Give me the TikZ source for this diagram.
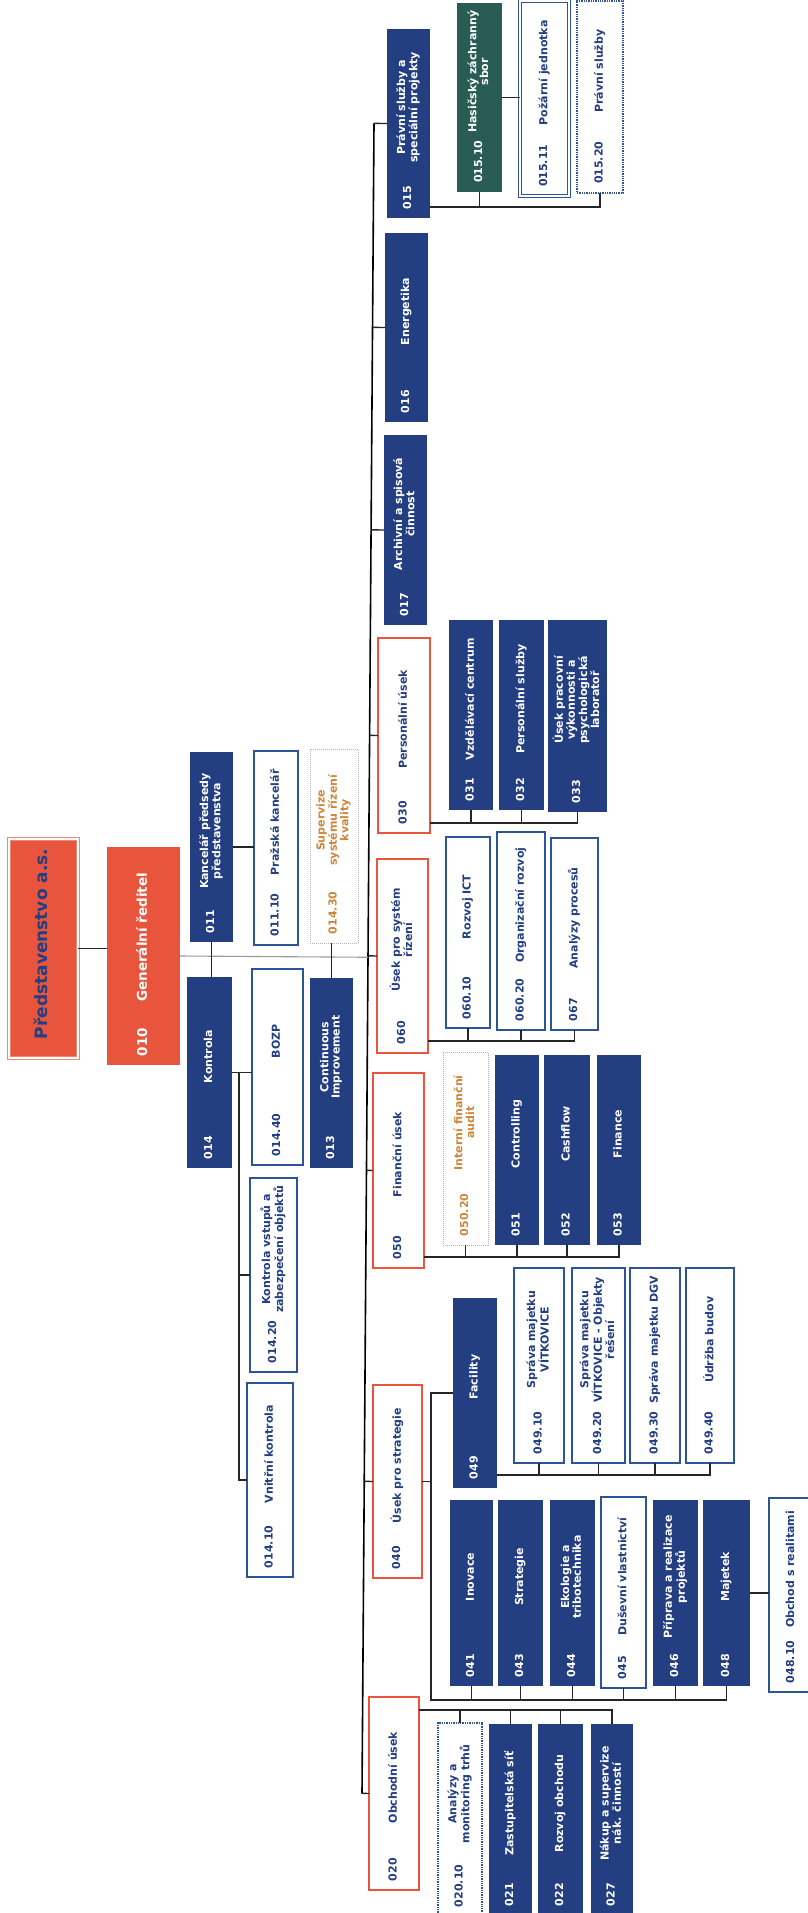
\documentclass[tikz,border=0pt]{standalone}
\usepackage{fontspec}
\setmainfont{DejaVu Sans}
\usetikzlibrary{calc}

\definecolor{navy}{RGB}{36,62,130}
\definecolor{redc}{RGB}{232,84,60}
\definecolor{bord}{RGB}{45,85,150}
\definecolor{tealg}{RGB}{40,92,84}
\definecolor{ortxt}{RGB}{205,135,60}

\renewcommand{\arraystretch}{0.88}
\newcommand{\fsz}{\fontsize{11}{12.5}\selectfont}

% text of a box: code at the bottom, label centred in the rest
\newcommand{\boxtxt}[3]{\hbox to #1pt{\hspace{9pt}#2\hfil\begin{tabular}{@{}c@{}}#3\end{tabular}\hfil}}
% style, name, x1, y1, x2, y2, code, label
\newcommand{\orgbox}[8]{%
  \node[#1, minimum width={(#5)-(#3)}, minimum height={(#6)-(#4)}] (#2) at ({((#3)+(#5))/2},{((#4)+(#6))/2}) {};
  \pgfmathsetmacro{\blen}{(#6)-(#4)}
  \node[#1 text, rotate=90, inner sep=0pt] (#2-t) at (#2.center) {\boxtxt{\blen}{#7}{#8}};}

\tikzset{
  box/.style={rectangle, inner sep=0pt, outer sep=0pt},
  dbox/.style={box, fill=navy},
  dbox text/.style={text=white, font=\bfseries\fsz},
  gbox/.style={box, fill=tealg},
  gbox text/.style={dbox text},
  wbox/.style={box, draw=bord, line width=1.3pt, fill=white},
  wbox text/.style={text=navy, font=\bfseries\fsz},
  wdot/.style={wbox, densely dotted},
  wdot text/.style={wbox text},
  tbox/.style={box, draw=bord, line width=2.8pt, fill=white},
  tbox text/.style={wbox text},
  qbox/.style={box, draw=bord, double=white, double distance=1.6pt, line width=0.9pt, fill=white},
  qbox text/.style={wbox text},
  obox/.style={box, draw=gray!60, densely dotted, line width=1pt, fill=white},
  obox text/.style={text=ortxt, font=\bfseries\fsz},
  rbox/.style={box, draw=redc, line width=1.8pt, fill=white},
  rbox text/.style={wbox text},
  rfill/.style={box, fill=redc},
  rfill text/.style={text=white, font=\bfseries\fontsize{13.5}{15}\selectfont},
  pbox/.style={box, fill=redc, draw=redc!70, double=white, double distance=2.4pt, line width=0.8pt},
  pbox text/.style={text=navy, font=\bfseries\fontsize{17}{19}\selectfont},
  conn/.style={draw=black!85, line width=1.4pt},
  bus/.style={draw=black, line width=1.6pt},
  gline/.style={draw=gray!80, line width=1.1pt}
}

\begin{document}
\begin{tikzpicture}[x=1pt,y=-1pt]
\useasboundingbox (0,0) rectangle (807,1913);

% board and director
\orgbox{pbox}{pred}{9}{839}{78}{1058}{}{Představenstvo a.s.}
\orgbox{rfill}{k010}{107}{847}{180}{1065}{010}{Generální ředitel}

% units of the director
\orgbox{dbox}{k011}{190}{752}{233}{942}{011}{Kancelář předsedy\\představenstva}
\orgbox{dbox}{k014}{187}{977}{232}{1168}{014}{Kontrola}
\orgbox{wbox}{k01110}{254}{751}{298}{945}{011.10}{Pražská kancelář}
\orgbox{obox}{sup}{310}{749}{358}{943}{014.30}{Supervize\\systému řízení\\kvality}
\orgbox{tbox}{bozp}{252}{969}{303}{1165}{014.40}{BOZP}
\orgbox{dbox}{k013}{310}{978}{353}{1168}{013}{Continuous\\Improvement}
\orgbox{wbox}{k01420}{250}{1178}{297}{1372}{014.20}{Kontrola vstupů a\\zabezpečení objektů}
\orgbox{wbox}{k01410}{247}{1383}{293}{1577}{014.10}{Vnitřní kontrola}

% column on the bus
\orgbox{dbox}{k015}{387}{29}{430}{218}{015}{Právní služby a\\speciální projekty}
\orgbox{dbox}{k016}{385}{233}{428}{422}{016}{Energetika}
\orgbox{dbox}{k017}{384}{435}{427}{625}{017}{Archivní a spisová\\činnost}
\orgbox{rbox}{k030}{378}{638}{430}{833}{030}{Personální úsek}
\orgbox{rbox}{k060}{377}{859}{428}{1053}{060}{Úsek pro systém\\řízení}
\orgbox{rbox}{k050}{373}{1073}{424}{1268}{050}{Finanční úsek}
\orgbox{rbox}{k040}{373}{1385}{422}{1578}{040}{Úsek pro strategie}
\orgbox{rbox}{k020}{369}{1697}{419}{1890}{020}{Obchodní úsek}

% 015
\orgbox{gbox}{k01510}{457}{3}{502}{192}{015.10}{Hasičský záchranný\\sbor}
\orgbox{qbox}{k01511}{520}{1}{569}{196}{015.11}{Požární jednotka}
\orgbox{wdot}{k01520}{577}{1}{623}{193}{015.20}{Právní služby}

% 030
\orgbox{dbox}{k031}{449}{620}{493}{810}{031}{Vzdělávací centrum}
\orgbox{dbox}{k032}{499}{620}{544}{810}{032}{Personální služby}
\orgbox{dbox}{k033}{548}{620}{607}{812}{033}{Úsek pracovní\\výkonnosti a\\psychologická\\laboratoř}

% 060
\orgbox{wbox}{k06010}{446}{837}{490}{1028}{060.10}{Rozvoj ICT}
\orgbox{tbox}{k06020}{497}{832}{545}{1030}{060.20}{Organizační rozvoj}
\orgbox{wbox}{k067}{551}{838}{598}{1030}{067}{Analýzy procesů}

% 050
\orgbox{obox}{k05020}{443}{1052}{488}{1245}{050.20}{Interní finanční\\audit}
\orgbox{dbox}{k051}{495}{1055}{539}{1245}{051}{Controlling}
\orgbox{dbox}{k052}{544}{1055}{590}{1245}{052}{Cashflow}
\orgbox{dbox}{k053}{597}{1055}{641}{1245}{053}{Finance}

% 040
\orgbox{dbox}{k049}{453}{1298}{497}{1488}{049}{Facility}
\orgbox{wbox}{k04910}{514}{1268}{564}{1463}{049.10}{Správa majetku\\VÍTKOVICE}
\orgbox{wbox}{k04920}{572}{1268}{625}{1463}{049.20}{Správa majetku\\VÍTKOVICE - Objekty\\řešení}
\orgbox{wbox}{k04930}{630}{1268}{680}{1463}{049.30}{Správa majetku DGV}
\orgbox{wbox}{k04940}{686}{1268}{734}{1463}{049.40}{Údržba budov}
\orgbox{dbox}{k041}{450}{1500}{493}{1686}{041}{Inovace}
\orgbox{dbox}{k043}{498}{1500}{543}{1686}{043}{Strategie}
\orgbox{dbox}{k044}{550}{1500}{595}{1686}{044}{Ekologie a\\tribotechnika}
\orgbox{wbox}{k045}{601}{1497}{646}{1688}{045}{Duševní vlastnictví}
\orgbox{dbox}{k046}{653}{1500}{698}{1686}{046}{Příprava a realizace\\projektů}
\orgbox{dbox}{k048}{703}{1500}{750}{1686}{048}{Majetek}
\orgbox{wbox}{k04810}{769}{1498}{814}{1692}{048.10}{Obchod s realitami}

% 020
\orgbox{wdot}{k02010}{438}{1723}{482}{1916}{020.10}{Analýzy a\\monitoring trhů}
\orgbox{dbox}{k021}{489}{1724}{532}{1915}{021}{Zastupitelská síť}
\orgbox{dbox}{k022}{538}{1724}{583}{1915}{022}{Rozvoj obchodu}
\orgbox{dbox}{k027}{591}{1724}{633}{1915}{027}{Nákup a supervize\\nák. činností}

% bus
\coordinate (busT) at (374,123.5);
\coordinate (busB) at (362,1793.5);
\draw[bus] (busT) -- (busB);
\foreach \n in {k015,k016,k017,k030,k060,k050,k040,k020}
  \draw[conn] ($(busT)!(\n.west)!(busB)$) -- (\n.west);

% director
\draw[conn] (pred.east) -- (pred.east -| k010.west);
\draw[gline] (k010.east) -- ($(busT)!(k010.east)!(busB)$);
\draw[conn] (k011.south) -- (k011.south |- k014.north);
\draw[conn] (k011.east) -- (k011.east -| k01110.west);
\draw[conn] (k013.north) -- (k013.north |- sup.south);
\coordinate (kx) at (239,0);
\draw[conn] (k014.east) -- (k014.east -| bozp.west);
\draw[conn] (kx |- k014.east) -- (kx |- k01410.west) -- (k01410.west);
\draw[conn] (kx |- k01420.west) -- (k01420.west);

% 015
\coordinate (c015) at (0,207);
\draw[conn] (k015.east |- c015) -- (k01520.south |- c015) -- (k01520.south);
\draw[conn] (k01510.south) -- (k01510.south |- c015);
\draw[conn] (k01510.east) -- (k01510.east -| k01511.west);

% 030
\coordinate (c030) at (0,823);
\draw[conn] (k030.east |- c030) -- (k033.south |- c030) -- (k033.south);
\foreach \n in {k031,k032} \draw[conn] (\n.south) -- (\n.south |- c030);

% 060
\coordinate (c060) at (0,1041);
\draw[conn] (k060.east |- c060) -- (k067.south |- c060) -- (k067.south);
\foreach \n in {k06010,k06020} \draw[conn] (\n.south) -- (\n.south |- c060);

% 050
\coordinate (c050) at (0,1257);
\draw[conn] (k050.east |- c050) -- (k053.south |- c050) -- (k053.south);
\foreach \n in {k05020,k051,k052} \draw[conn] (\n.south) -- (\n.south |- c050);

% 040
\coordinate (t040) at (431,0);
\coordinate (r040) at (0,1700);
\coordinate (c049) at (0,1475);
\draw[conn] (k040.east) -- (t040 |- k040.east);
\draw[conn] (k049.west) -- (t040 |- k049.west) -- (t040 |- r040) -- (k048.south |- r040) -- (k048.south);
\foreach \n in {k041,k043,k044,k045,k046} \draw[conn] (\n.south) -- (\n.south |- r040);
\draw[conn] (k049.east |- c049) -- (k04940.south |- c049) -- (k04940.south);
\foreach \n in {k04910,k04920,k04930} \draw[conn] (\n.south) -- (\n.south |- c049);
\draw[conn] (k048.east) -- (k048.east -| k04810.west);

% 020
\coordinate (c020) at (0,1710);
\draw[conn] (k020.east |- c020) -- (k027.north |- c020) -- (k027.north);
\foreach \n in {k02010,k021,k022} \draw[conn] (\n.north |- c020) -- (\n.north);

\end{tikzpicture}
\end{document}
